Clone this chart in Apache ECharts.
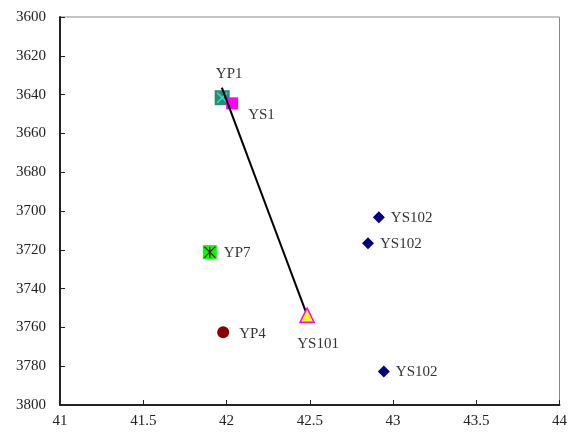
<!DOCTYPE html>
<html><head><meta charset="utf-8">
<script src="https://cdn.jsdelivr.net/npm/echarts@6/dist/echarts.min.js"></script>
<style>html,body{margin:0;padding:0;background:#fff}#c{width:570px;height:434px}</style>
</head><body><div id="c"></div>
<script>
var xTicks = [41, 41.5, 42, 42.5, 43, 43.5, 44];
var yTicks = [3600, 3620, 3640, 3660, 3680, 3700, 3720, 3740, 3760, 3780, 3800];
var linePts = [[41.972, 3636.4], [42.484, 3753.7]];
var yp1 = [[41.974, 3641.6]];
var ys1 = [[42.034, 3644.5]];
var ys101 = [[42.484, 3753.7]];
var yp7 = [[41.90, 3721.2]];
var yp4 = [[41.98, 3762.5]];
var ys102 = [[42.915, 3703.2], [42.85, 3716.6], [42.945, 3782.7]];

var font = '"Liberation Serif", "DejaVu Serif", serif';
function lab(pos, off) {
  return {show: true, formatter: '{a}', position: pos, offset: off || [0,0],
    fontFamily: font, fontSize: 15, color: '#333'};
}
var chart = echarts.init(document.getElementById('c'));
chart.setOption({
  animation: false,
  grid: {left: 60, top: 17, width: 501, height: 388, show: true, borderColor: '#888', borderWidth: 1, backgroundColor: '#fff'},
  xAxis: {type: 'value', min: xTicks[0], max: xTicks[xTicks.length-1], interval: 0.5,
    axisLine: {lineStyle: {color: '#222', width: 2}}, splitLine: {show: false},
    axisTick: {inside: true, length: 5, lineStyle: {color: '#222'}},
    axisLabel: {fontFamily: font, fontSize: 15, color: '#222', margin: 9,
      formatter: function (v) { return String(v); }}},
  yAxis: {type: 'value', inverse: true, min: yTicks[0], max: yTicks[yTicks.length-1], interval: 20,
    axisLine: {show: true, lineStyle: {color: '#222', width: 2}}, splitLine: {show: false},
    axisTick: {show: true, inside: true, length: 5, lineStyle: {color: '#222'}},
    axisLabel: {fontFamily: font, fontSize: 15, color: '#222', margin: 14,
      formatter: function (v) { return String(v); }}},
  series: [
    {name: 'line', type: 'line', data: linePts, symbol: 'none', lineStyle: {color: '#000', width: 2}, z: 3},
    {name: 'YP1', type: 'scatter', data: yp1, symbol: 'rect', symbolSize: 15,
      itemStyle: {color: '#2e8b6e', opacity: 1}, label: lab('top', [7, -4]), z: 2},
    {name: 'YP1x', type: 'scatter', data: yp1, symbol: 'path://M0,0L10,10M10,0L0,10', symbolSize: 10,
      itemStyle: {color: 'none', borderColor: '#22e0e0', borderWidth: 1.5, opacity: 1}, z: 2},
    {name: 'YS1', type: 'scatter', data: ys1, symbol: 'rect', symbolSize: 12,
      itemStyle: {color: '#ff00ff', opacity: 1}, label: lab('right', [5, 12]), z: 2},
    {name: 'YS101', type: 'scatter', data: ys101, symbol: 'triangle', symbolSize: 14,
      itemStyle: {color: '#ffff00', borderColor: '#ff00ff', borderWidth: 1.5, opacity: 1}, label: lab('bottom', [11, 9]), z: 4},
    {name: 'YP7', type: 'scatter', data: yp7, symbol: 'rect', symbolSize: 14,
      itemStyle: {color: '#00ff00', opacity: 1}, label: lab('right', [2, 1]), z: 2},
    {name: 'YP7x', type: 'scatter', data: yp7, symbol: 'path://M0,0L10,10M10,0L0,10M5,0L5,10', symbolSize: 11,
      itemStyle: {color: 'none', borderColor: '#800000', borderWidth: 1.3, opacity: 1}, z: 2},
    {name: 'YP4', type: 'scatter', data: yp4, symbol: 'circle', symbolSize: 12,
      itemStyle: {color: '#8b0000', opacity: 1}, label: lab('right', [5, 2]), z: 2},
    {name: 'YS102', type: 'scatter', data: ys102, symbol: 'diamond', symbolSize: 12,
      itemStyle: {color: '#000080', opacity: 1}, label: lab('right', [1, 1]), z: 2}
  ]
});
</script></body></html>
